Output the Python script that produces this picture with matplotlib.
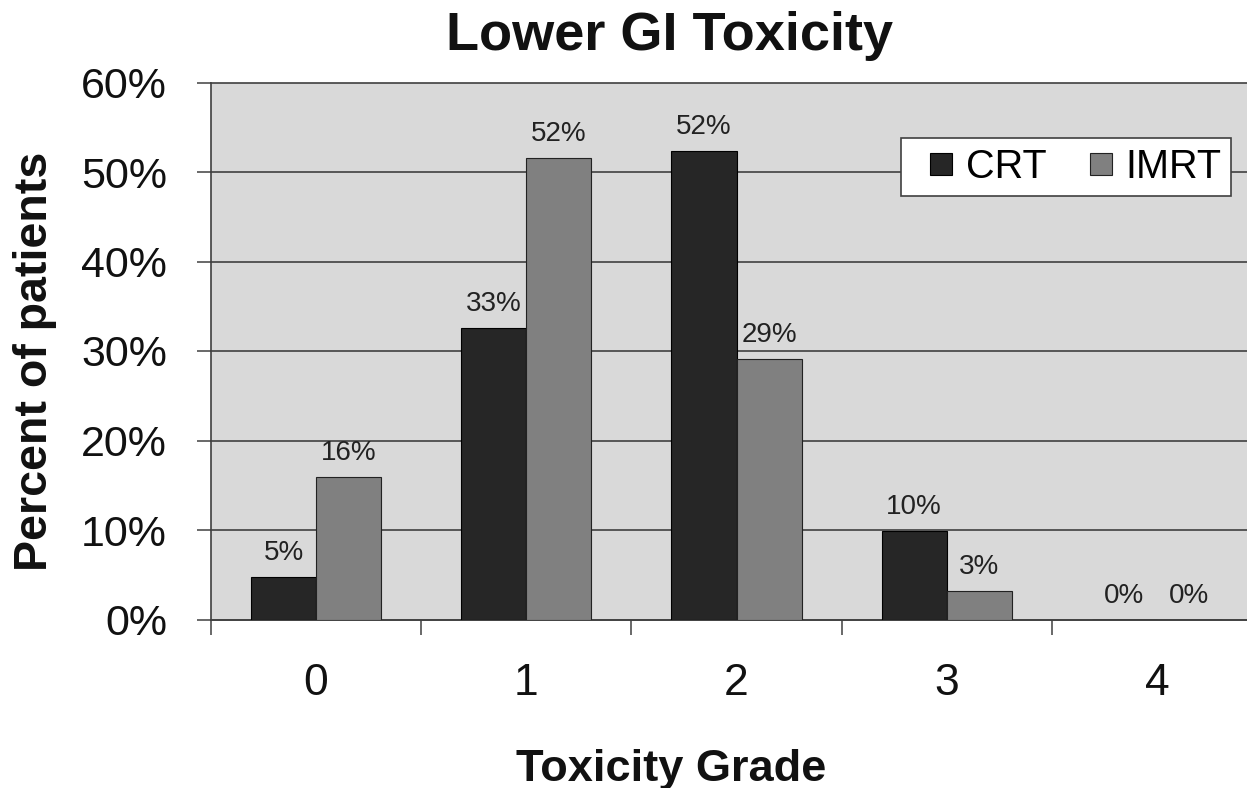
import numpy as np
import matplotlib
matplotlib.use("Agg")
import matplotlib.pyplot as plt
from matplotlib.lines import Line2D

plt.rcParams['font.family'] = ['Liberation Sans', 'DejaVu Sans']

grades = ["0", "1", "2", "3", "4"]
crt = [4.8, 32.6, 52.4, 9.9, 0.0]
imrt = [15.9, 51.6, 29.1, 3.2, 0.0]
series_names = ["CRT", "IMRT"]
yticks = [0, 10, 20, 30, 40, 50, 60]
ytick_labels = ["0%", "10%", "20%", "30%", "40%", "50%", "60%"]
title = "Lower GI Toxicity"
xlabel = "Toxicity Grade"
ylabel = "Percent of patients"

W, H = 1247, 788
fig = plt.figure(figsize=(W / 100, H / 100), dpi=100)
fig.patch.set_facecolor("white")

ax = fig.add_axes([211 / W, 1 - 619.5 / H, (1262 - 211) / W, (619.5 - 82.5) / H])
ax.set_facecolor("#d9d9d9")

x = np.arange(len(grades))
w = 0.31
c_crt = "#262626"
c_imrt = "#808080"
ax.bar(x - w / 2, crt, w, color=c_crt, edgecolor="black", linewidth=0.8, zorder=3)
ax.bar(x + w / 2, imrt, w, color=c_imrt, edgecolor="#222222", linewidth=0.8, zorder=3)

for xi, v in zip(x - w / 2, crt):
    ax.annotate(f"{v:.0f}%", (xi, v), xytext=(0, 12.2), textcoords="offset points",
                ha="center", va="baseline", fontsize=20, color="#222222", zorder=4)
for xi, v in zip(x + w / 2, imrt):
    ax.annotate(f"{v:.0f}%", (xi, v), xytext=(0, 12.2), textcoords="offset points",
                ha="center", va="baseline", fontsize=20, color="#222222", zorder=4)

ax.set_xlim(-0.5, 4.5)
ax.set_ylim(0, 60)
ax.set_yticks(yticks)
ax.set_yticklabels(ytick_labels)
ax.yaxis.grid(True, color="#404040", linewidth=1.2)
ax.set_axisbelow(True)
for gl in ax.get_ygridlines():
    gl.set_clip_on(False)

for s in ["top", "right"]:
    ax.spines[s].set_visible(False)
for s in ["left", "bottom"]:
    ax.spines[s].set_color("#404040")
    ax.spines[s].set_linewidth(1.2)

ax.tick_params(axis="y", length=10, width=1.1, color="#404040", pad=21.6,
               labelsize=31, labelcolor="#111111")
ax.set_xticks(x)
ax.set_xticklabels(grades)
ax.tick_params(axis="x", which="major", length=0, pad=31, labelsize=32, labelcolor="#111111")
ax.set_xticks(np.arange(-0.5, len(grades), 1.0), minor=True)
ax.tick_params(axis="x", which="minor", length=10.8, width=1.1, color="#404040")

fig.text(670 / W, 1 - 50 / H, title, ha="center", va="baseline",
         fontsize=39, fontweight="bold", color="#111111")
fig.text(671.5 / W, 1 - 780.5 / H, xlabel, ha="center", va="baseline",
         fontsize=32.5, fontweight="bold", color="#111111")
fig.text(47 / W, 1 - 361.5 / H, ylabel, ha="center", va="baseline", rotation=90,
         rotation_mode="anchor", fontsize=33.5, fontweight="bold", color="#111111")

handles = [
    Line2D([], [], linestyle="none", marker="s", markersize=15.8,
           markerfacecolor=c_crt, markeredgecolor="black", markeredgewidth=0.8),
    Line2D([], [], linestyle="none", marker="s", markersize=15.8,
           markerfacecolor=c_imrt, markeredgecolor="#222222", markeredgewidth=0.8),
]
leg = fig.legend(handles, series_names, loc="upper left",
                 bbox_to_anchor=(901 / W, 1 - 138 / H), borderaxespad=0,
                 ncol=2, fontsize=28.5, frameon=True, fancybox=False,
                 handlelength=1.54, handletextpad=-0.155, columnspacing=0.6,
                 borderpad=0.25)
leg.get_frame().set_edgecolor("#404040")
leg.get_frame().set_linewidth(1.2)
leg.get_frame().set_facecolor("white")
leg.get_frame().set_alpha(1)

fig.savefig("out.png", dpi=100)
